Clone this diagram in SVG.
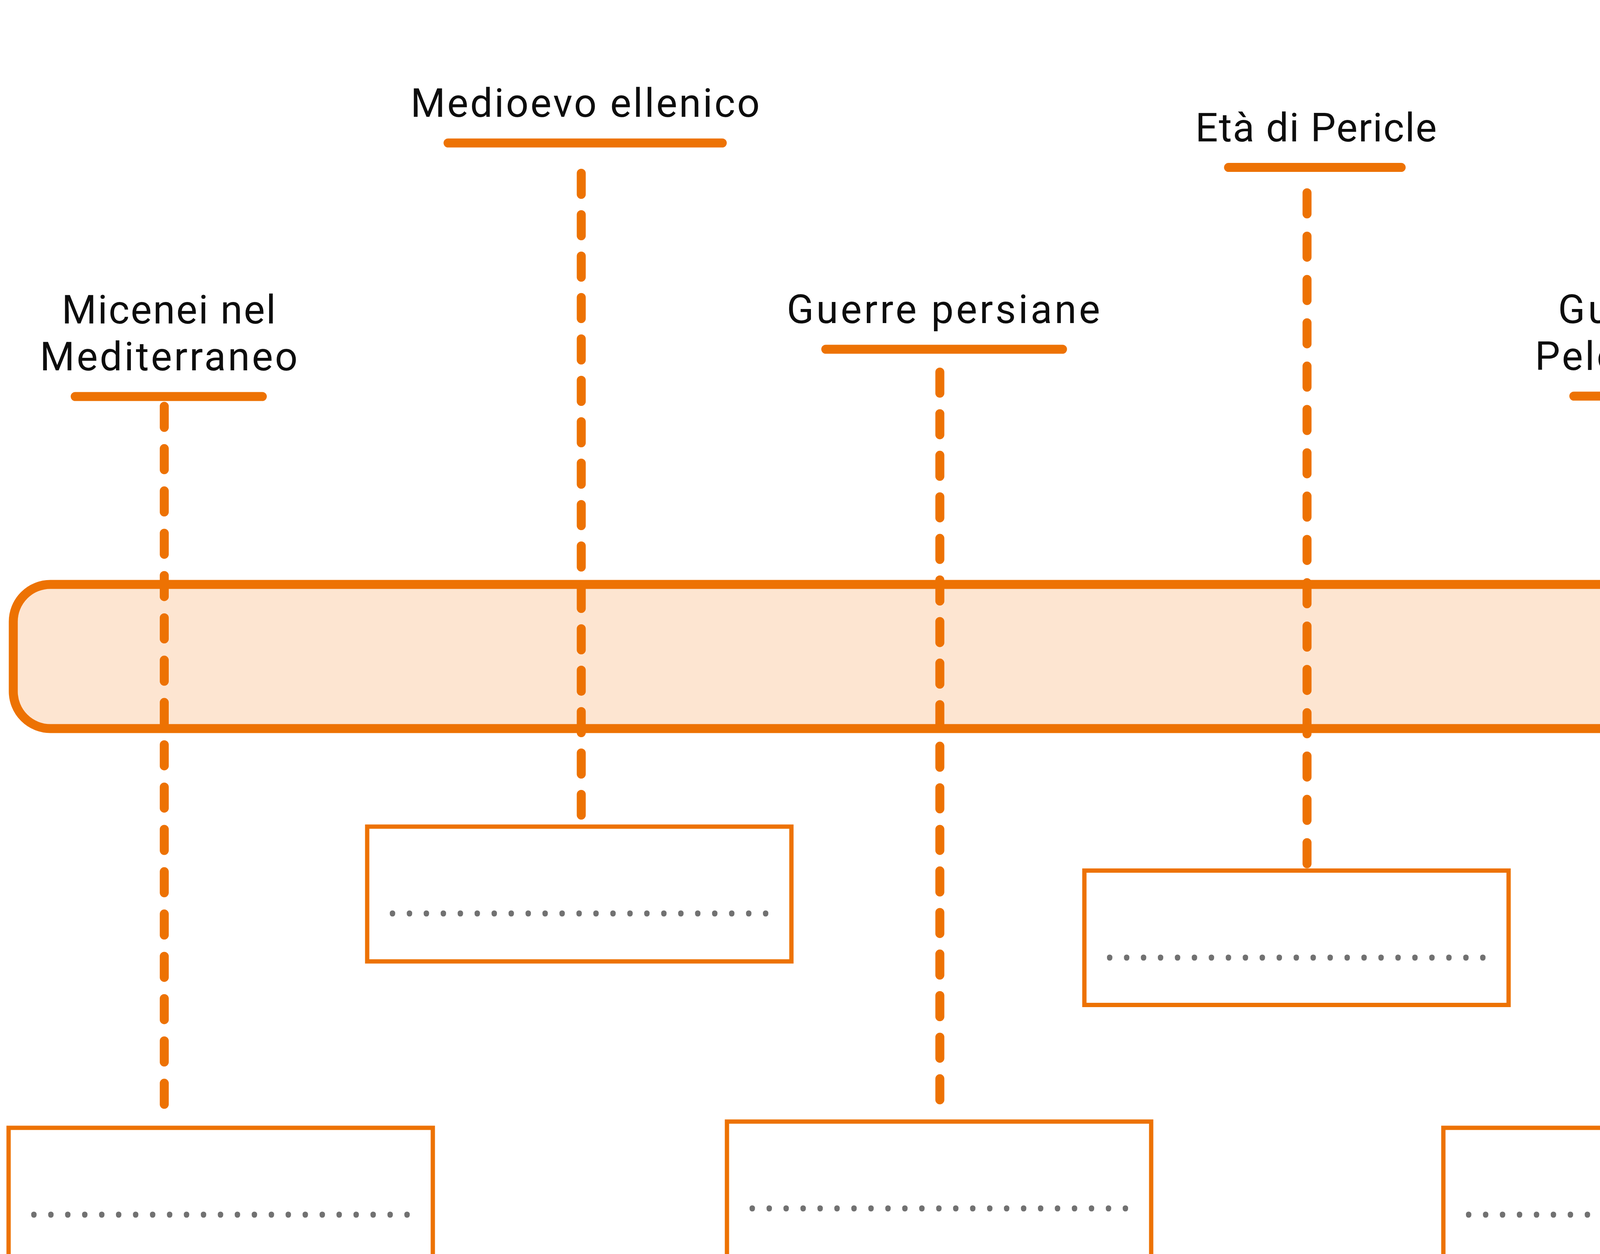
<svg xmlns="http://www.w3.org/2000/svg" width="5742" height="3210" viewBox="0 0 5742 3210">
<style>
.lbl{font-family:Roboto,"Open Sans","Noto Sans",sans-serif;font-size:102px;fill:#0d0d0d;text-anchor:middle}
.bar{stroke:#ED7203;stroke-width:23;stroke-linecap:round;fill:none}
.stem{stroke:#ED7203;stroke-width:23;stroke-linecap:round;fill:none}
.box{fill:#ffffff;stroke:#ED7203;stroke-width:11}
.dots{font-family:"Open Sans","Noto Sans",sans-serif;font-size:120px;fill:#717171;letter-spacing:11.9px}
.arrow{fill:#FDE5D1;stroke:#ED7203;stroke-width:23;stroke-linejoin:miter}
</style>
<rect x="0" y="0" width="5742" height="3210" fill="#ffffff"/>
<g id="timeline-arrow">
<path class="arrow" d="M 129 1496 H 5366 V 1408.8 A 26 26 0 0 1 5410.4 1390.4 L 5669.4 1649.4 A 44.7 44.7 0 0 1 5669.4 1712.6 L 5410.4 1971.6 A 26 26 0 0 1 5366 1953.2 V 1865 H 129 A 95 95 0 0 1 34 1770 V 1591 A 95 95 0 0 1 129 1496 Z"/>
</g>
<g id="connectors">
<line class="stem" x1="420.5" y1="1040" x2="420.5" y2="2827" stroke-dasharray="54 54.3"/>
<line class="stem" x1="1488" y1="443.5" x2="1488" y2="2086.5" stroke-dasharray="54 52"/>
<line class="stem" x1="2406" y1="952.5" x2="2406" y2="2815.5" stroke-dasharray="54 52.4"/>
<line class="stem" x1="3346" y1="493.5" x2="3346" y2="2211.5" stroke-dasharray="54 56.9"/>
<line class="stem" x1="4263" y1="1084.5" x2="4263" y2="2859.5" stroke-dasharray="54 53.6"/>
<line class="stem" x1="5253.6" y1="493.5" x2="5253.6" y2="2211.5" stroke-dasharray="54 56.9"/>
</g>
<g id="event-micenei">
<text class="lbl" x="432" y="828" textLength="548">Micenei nel</text>
<text class="lbl" x="432" y="948" textLength="660">Mediterraneo</text>
<line class="bar" x1="192.5" y1="1015" x2="671.5" y2="1015"/>
</g>
<g id="event-medioevo">
<text class="lbl" x="1498" y="299" textLength="894">Medioevo ellenico</text>
<line class="bar" x1="1147" y1="366" x2="1849" y2="366"/>
</g>
<g id="event-guerre-persiane">
<text class="lbl" x="2415" y="827" textLength="802">Guerre persiane</text>
<line class="bar" x1="2114" y1="894" x2="2720" y2="894"/>
</g>
<g id="event-pericle">
<text class="lbl" x="3369" y="361.6" textLength="618">Età di Pericle</text>
<line class="bar" x1="3145" y1="428.6" x2="3587" y2="428.6"/>
</g>
<g id="event-peloponneso">
<text class="lbl" x="4252" y="827" textLength="527">Guerra del</text>
<text class="lbl" x="4252" y="947" textLength="645">Peloponneso</text>
<line class="bar" x1="4029" y1="1014" x2="4475" y2="1014"/>
</g>
<g id="event-macedoni">
<text class="lbl" x="5185" y="130" textLength="536">I Macedoni</text>
<text class="lbl" x="5185" y="250" textLength="620">conquistano</text>
<text class="lbl" x="5185" y="370" textLength="438">la Grecia</text>
<line class="bar" x1="4965.5" y1="435" x2="5404.5" y2="435"/>
</g>
<g id="box-1">
<path class="box" d="M 22 3210 V 2887 H 1108 V 3210"/>
<text class="dots" x="71" y="3115">.......................</text>
</g>
<g id="box-2">
<rect class="box" x="940" y="2116" width="1086" height="345"/>
<text class="dots" x="989" y="2344">.......................</text>
</g>
<g id="box-3">
<path class="box" d="M 1861 3210 V 2871 H 2947 V 3210"/>
<text class="dots" x="1910" y="3099">.......................</text>
</g>
<g id="box-4">
<rect class="box" x="2776" y="2228.5" width="1086" height="344"/>
<text class="dots" x="2825" y="2456.5">.......................</text>
</g>
<g id="box-5">
<path class="box" d="M 3695 3210 V 2887 H 4781 V 3210"/>
<text class="dots" x="3744" y="3115">.......................</text>
</g>
<g id="box-6">
<rect class="box" x="4610" y="2228.5" width="1086" height="344"/>
<text class="dots" x="4659" y="2456.5">.......................</text>
</g>
</svg>
